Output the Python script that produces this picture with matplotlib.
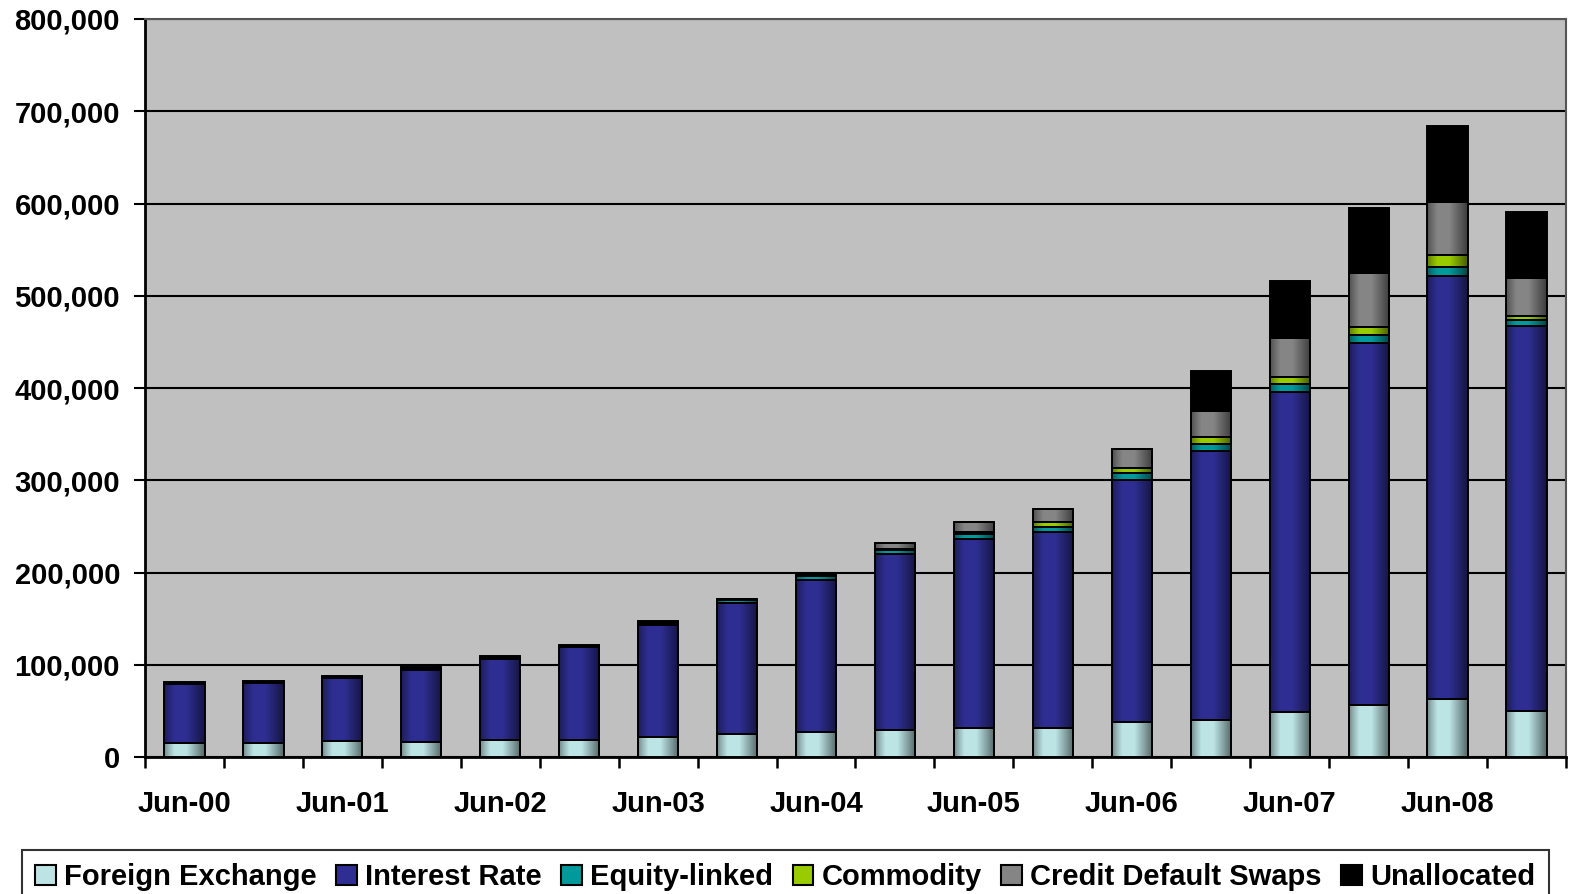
#!/usr/bin/env python3
"""OTC derivatives notional amounts outstanding by risk category, stacked by half-year."""

import numpy as np
import matplotlib
matplotlib.use('Agg')
import matplotlib.pyplot as plt
from matplotlib.patches import Patch
from matplotlib.ticker import FuncFormatter, MultipleLocator

plt.rcParams['font.family'] = ['Liberation Sans', 'DejaVu Sans']
plt.rcParams['font.weight'] = 'bold'

periods = ['Jun-00', 'Dec-00', 'Jun-01', 'Dec-01', 'Jun-02', 'Dec-02',
           'Jun-03', 'Dec-03', 'Jun-04', 'Dec-04', 'Jun-05', 'Dec-05',
           'Jun-06', 'Dec-06', 'Jun-07', 'Dec-07', 'Jun-08', 'Dec-08']

# notional amounts, USD billions
foreign_exchange = [15500, 15700, 16900, 16700, 18100, 18400, 22100, 24500, 27000,
                    29300, 31100, 31400, 38100, 40300, 48600, 56200, 63000, 49800]
interest_rate = [63600, 64500, 68500, 78000, 88600, 100300, 121000, 142000, 165000,
                 190500, 204800, 212000, 262500, 291600, 347300, 393100, 458300, 417500]
equity_linked = [0, 0, 0, 0, 0, 0, 0, 3800, 4500,
                 4400, 5600, 5800, 6800, 7500, 8600, 8500, 10200, 6000]
commodity = [0, 0, 0, 0, 0, 0, 0, 1400, 1300,
             1400, 2900, 5400, 6400, 7100, 7600, 8500, 13200, 4400]
credit_default_swaps = [0, 0, 0, 0, 0, 0, 0, 0, 0,
                        6400, 10200, 13900, 20400, 28700, 42600, 57900, 57400, 41900]
unallocated = [2200, 2500, 2500, 2500, 3000, 3200, 3800, 0, 0,
               0, 0, 0, 0, 43000, 61700, 71100, 81700, 70700]

series = [
    ('Foreign Exchange', foreign_exchange, '#BDE4E5'),
    ('Interest Rate', interest_rate, '#2E2E92'),
    ('Equity-linked', equity_linked, '#00999C'),
    ('Commodity', commodity, '#99CC00'),
    ('Credit Default Swaps', credit_default_swaps, '#858585'),
    ('Unallocated', unallocated, '#000000'),
]

BAR_WIDTH = 0.51


def cylinder_shade(ax, patches, zorder):
    """Darken the sides of each bar segment with a horizontal gradient."""
    n = 64
    pos = np.linspace(0, 1, n)
    alpha = np.interp(pos, [0, 0.08, 0.25, 0.55, 0.8, 1], [0.4, 0.25, 0.0, 0.0, 0.3, 0.55])
    rgba = np.zeros((1, n, 4))
    rgba[0, :, 3] = alpha
    for p in patches:
        if p.get_height() <= 0:
            continue
        x, y = p.get_xy()
        im = ax.imshow(rgba, extent=[x, x + p.get_width(), y, y + p.get_height()],
                       aspect='auto', interpolation='bilinear', zorder=zorder)
        im.set_clip_path(p)


fig = plt.figure(figsize=(15.69, 8.94), dpi=100)
ax = fig.add_axes([145 / 1569, 137 / 894, 1421 / 1569, 738 / 894])
ax.set_facecolor('#C0C0C0')

x = np.arange(len(periods))
bottom = np.zeros(len(periods))
for name, vals, color in series:
    vals = np.array(vals, dtype=float)
    bars = ax.bar(x, vals, BAR_WIDTH, bottom=bottom, color=color,
                  edgecolor='none', zorder=3)
    cylinder_shade(ax, bars.patches, 3.5)
    ax.bar(x, vals, BAR_WIDTH, bottom=bottom, fill=False,
           edgecolor='black', linewidth=1.4, zorder=4)
    bottom += vals

ax.set_xlim(-0.5, len(periods) - 0.5)
ax.set_ylim(0, 800000)

ax.yaxis.set_major_locator(MultipleLocator(100000))
ax.yaxis.set_major_formatter(FuncFormatter(lambda v, _: f'{v:,.0f}'))
ax.grid(axis='y', color='black', linewidth=1.5, zorder=1)
ax.set_axisbelow(True)

# category labels on every June, tick marks between categories
ax.set_xticks(x[::2])
ax.set_xticklabels(periods[::2])
ax.set_xticks(np.arange(-0.5, len(periods), 1), minor=True)
ax.tick_params(axis='x', which='major', length=0, pad=24, labelsize=21)
ax.tick_params(axis='x', which='minor', length=8, width=1.8, direction='out')
ax.tick_params(axis='y', length=8, width=1.5, direction='out', pad=10, labelsize=21)

for side in ['left', 'bottom']:
    ax.spines[side].set_linewidth(2)
    ax.spines[side].set_color('black')
for side in ['top', 'right']:
    ax.spines[side].set_linewidth(1.5)
    ax.spines[side].set_color('#555555')

handles = [Patch(facecolor=c, edgecolor='black', linewidth=1.5, label=n)
           for n, _, c in series]
leg = fig.legend(handles=handles, loc='upper left', ncol=6,
                 bbox_to_anchor=(22 / 1569, (894 - 850) / 894),
                 frameon=True, fancybox=False, edgecolor='black',
                 prop={'size': 21, 'weight': 'bold'},
                 handlelength=0.7, handleheight=0.7, handletextpad=0.3,
                 columnspacing=0.66, borderpad=0.45, borderaxespad=0)
leg.get_frame().set_linewidth(1.5)

fig.savefig('out.png', dpi=100)
